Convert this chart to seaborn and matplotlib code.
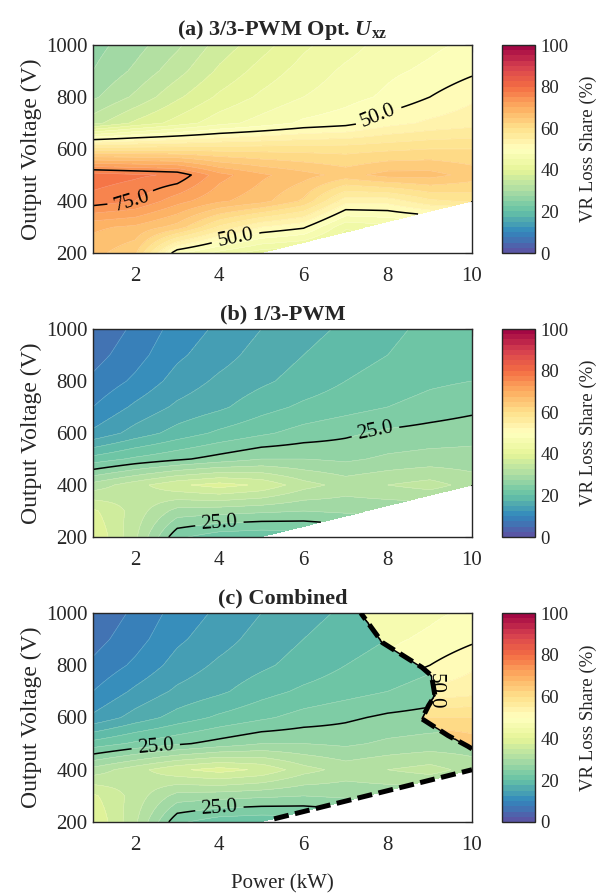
import numpy as np
import matplotlib
matplotlib.use("Agg")
import matplotlib.pyplot as plt
import seaborn as sns

# ---------------- data ----------------
power_kw = [1, 2, 3, 4, 5, 6, 7, 8, 9, 10]
voltage_v = [200, 300, 400, 500, 600, 700, 800, 900, 1000]

# VR loss share (%) for 3/3-PWM with optimal Uxz (rows: voltage, cols: power)
share_33 = [
    [66, 63, 48, 44, 41, 40, 38, 38, 38, 38],
    [68, 67, 64, 57, 52.5, 50.5, 43, 44, 44, 44],
    [76.5, 75, 71, 68, 66, 62, 53.5, 53.5, 57, 58],
    [79, 78, 77, 71, 68, 66, 64, 66, 66, 64],
    [59, 59, 59, 59, 59, 59, 59, 59.5, 60, 60],
    [34, 38, 41, 44, 46, 48, 49, 51.5, 53, 54],
    [29.5, 33, 37, 40.5, 43, 45, 46.5, 48, 50, 52],
    [27.5, 30.5, 34, 38, 41, 43.5, 45.5, 47, 48, 49.5],
    [26.5, 29, 32, 36, 39, 42, 44, 46, 47, 48],
]

# VR loss share (%) for 1/3-PWM
share_13 = [
    [40, 33, 23, 21, 20.5, 21, 22, 22, 22, 22],
    [38, 34, 29, 28.5, 28, 27.5, 28, 28, 28, 28],
    [31, 34, 37, 38.5, 37, 33.5, 31.5, 32.5, 33.5, 31.5],
    [21, 23, 24.5, 26, 27.5, 27.5, 27, 28, 28.5, 28.5],
    [13, 16, 18.5, 20.5, 22, 23.5, 24.5, 25.5, 26, 26.5],
    [10, 13, 15.5, 17, 19, 20.5, 21.5, 22.5, 23.5, 24.3],
    [8, 10.5, 13.5, 15.5, 17, 18.5, 20, 21, 22, 22.5],
    [6.5, 9, 12, 14, 16, 17.5, 19, 20, 21, 21.5],
    [5.5, 8, 11, 13, 15, 16.5, 18, 19.5, 20.5, 21],
]

# lower limit of the operating region (below this line: no data)
edge_power = [5.0, 10.0]
edge_voltage = [200.0, 400.0]
edge_dash_start_kw = 5.3

# boundary of the region where 3/3-PWM is selected in the combined map
switch_voltage = [480, 490, 531, 595, 646, 684, 760, 792, 887, 1000]
switch_power = [10.0, 9.9, 9.43, 8.81, 8.97, 9.12, 9.04, 8.81, 7.87, 7.36]

contour_levels = [25, 50, 75]
cbar_ticks = [0, 20, 40, 60, 80, 100]
x_ticks = [2, 4, 6, 8, 10]
y_ticks = [200, 400, 600, 800, 1000]
titles = [r"(a) 3/3-PWM Opt. $\mathbfit{U}_{\mathbf{xz}}$", "(b) 1/3-PWM", "(c) Combined"]

# ---------------- style ----------------
sns.set_theme(style="white")
plt.rcParams.update({
    "font.family": ["Liberation Serif", "DejaVu Serif"],
    "mathtext.fontset": "custom",
    "mathtext.rm": "Liberation Serif",
    "mathtext.it": "Liberation Serif:italic",
    "mathtext.bf": "Liberation Serif:bold",
    "mathtext.bfit": "Liberation Serif:italic:bold",
    "axes.edgecolor": "#262626",
    "axes.linewidth": 1.0,
    "xtick.color": "#262626",
    "ytick.color": "#262626",
    "text.color": "#262626",
    "axes.labelcolor": "#262626",
})
cmap = sns.color_palette("Spectral_r", as_cmap=True)

P = np.asarray(power_kw, float)
V = np.asarray(voltage_v, float)
A = np.asarray(share_33, float)
B = np.asarray(share_13, float)

# render grid (bilinear between the measured points)
pf = np.linspace(P[0], P[-1], 451)
vf = np.linspace(V[0], V[-1], 401)
PF, VF = np.meshgrid(pf, vf)


def render(z):
    zp = np.array([np.interp(pf, P, row) for row in z])
    return np.array([np.interp(vf, V, col) for col in zp.T]).T


Af = render(A)
Bf = render(B)
selected = (VF >= switch_voltage[0]) & (PF >= np.interp(VF, switch_voltage, switch_power))
Cf = np.where(selected, Af, Bf)

invalid = VF < np.interp(PF, edge_power, edge_voltage) - 1e-9
fields = [np.ma.masked_where(invalid, f) for f in (Af, Bf, Cf)]

fill_levels = np.linspace(0, 100, 41)

fig = plt.figure(figsize=(6.03, 8.93), dpi=100)
W, H = 603, 893
ax_boxes = [(93, 45, 472, 253), (93, 329, 472, 537), (93, 613, 472, 822)]
cb_x0, cb_x1 = 502, 535

manual_pos = [
    [(7.8, 720), (1.9, 420), (4.4, 245)],
    [(7.7, 610), (4.0, 255)],
    [(2.5, 470), (4.0, 255), (9.2, 700)],
]

for i, (field, box) in enumerate(zip(fields, ax_boxes)):
    x0, y0, x1, y1 = box
    ax = fig.add_axes([x0 / W, 1 - y1 / H, (x1 - x0) / W, (y1 - y0) / H])
    cf = ax.contourf(PF, VF, field, levels=fill_levels, cmap=cmap, vmin=0, vmax=100)
    ax.contour(PF, VF, field, levels=fill_levels, colors="white", linewidths=0.35, alpha=0.35)
    cs = ax.contour(PF, VF, field, levels=contour_levels, colors="black", linewidths=1.1)
    labels = ax.clabel(cs, fmt="%.1f", fontsize=15, manual=manual_pos[i], inline=True, inline_spacing=6)

    if i == 2:
        for t in labels:
            if t.get_position()[0] > 8.5:
                t.set_rotation(-90)
        dash_kw = dict(color="black", lw=3.6, dashes=(3.0, 1.3), solid_capstyle="butt", zorder=5)
        ax.plot(switch_power, switch_voltage, **dash_kw)
        ex = [edge_dash_start_kw, edge_power[-1]]
        ey = list(np.interp(ex, edge_power, edge_voltage))
        ax.plot(ex, ey, **dash_kw)
        ax.set_xlabel("Power (kW)", fontsize=15, labelpad=14)

    ax.set_xlim(P[0], P[-1])
    ax.set_ylim(V[0], V[-1])
    ax.set_xticks(x_ticks)
    ax.set_yticks(y_ticks)
    ax.tick_params(direction="in", top=True, right=True, length=5, width=0.8, labelsize=15)
    ax.tick_params(axis="x", pad=10)
    ax.tick_params(axis="y", pad=4)
    ax.set_ylabel("Output Voltage (V)", fontsize=17, labelpad=3)
    ax.set_title(titles[i], fontsize=16, fontweight="bold", pad=7)

    cax = fig.add_axes([cb_x0 / W, 1 - y1 / H, (cb_x1 - cb_x0) / W, (y1 - y0) / H])
    cb = fig.colorbar(cf, cax=cax, ticks=cbar_ticks)
    cb.outline.set_linewidth(1.0)
    cax.tick_params(direction="in", length=4, width=0.8, labelsize=13.5, pad=4)
    cb.set_label("VR Loss Share (%)", fontsize=13.5, labelpad=8)

fig.savefig("out.png", dpi=100)
